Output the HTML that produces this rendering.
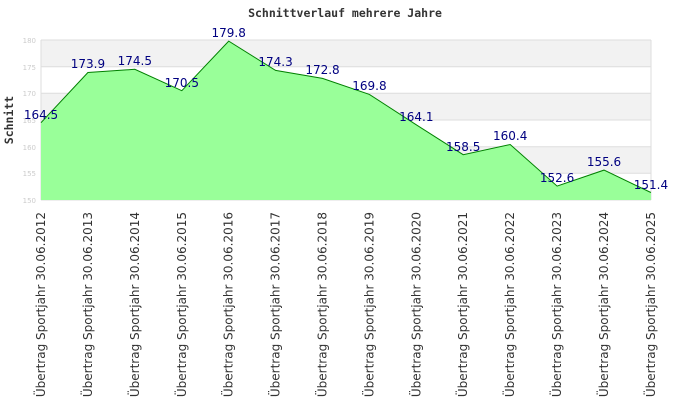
<!DOCTYPE html>
<html><head><style>body{margin:0;background:#fff}svg{display:block}</style></head><body>
<svg width="690" height="420" xmlns="http://www.w3.org/2000/svg">
<rect width="690" height="420" fill="#fff"/>
<text x="345" y="17" text-anchor="middle" font-family="DejaVu Sans Mono, monospace" font-weight="bold" font-size="11.5" fill="#333">Schnittverlauf mehrere Jahre</text>
<text transform="translate(13,120) rotate(-90)" text-anchor="middle" font-family="DejaVu Sans Mono, monospace" font-weight="bold" font-size="11.5" fill="#333">Schnitt</text>
<g>
<rect x="41" y="40" width="610" height="26.7" fill="#f2f2f2"/>
<rect x="41" y="93.3" width="610" height="26.7" fill="#f2f2f2"/>
<rect x="41" y="146.7" width="610" height="26.7" fill="#f2f2f2"/>
</g>
<g stroke="#ddd" stroke-width="1">
<line x1="41" y1="40" x2="651" y2="40"/><line x1="41" y1="66.7" x2="651" y2="66.7"/><line x1="41" y1="93.3" x2="651" y2="93.3"/><line x1="41" y1="120" x2="651" y2="120"/><line x1="41" y1="146.7" x2="651" y2="146.7"/><line x1="41" y1="173.3" x2="651" y2="173.3"/><line x1="41" y1="200" x2="651" y2="200"/>
<line x1="41" y1="40" x2="41" y2="200"/><line x1="651" y1="40" x2="651" y2="200"/>
</g>
<g font-family="DejaVu Sans, sans-serif" font-size="7" fill="#ccc" text-anchor="end">
<text x="36" y="43">180</text><text x="36" y="70">175</text><text x="36" y="96">170</text><text x="36" y="123">165</text><text x="36" y="150">160</text><text x="36" y="176">155</text><text x="36" y="203">150</text>
</g>
<polygon fill="#99ff99" points="41,200 41,122.7 87.9,72.5 134.8,69.3 181.8,90.7 228.7,41.1 275.6,70.4 322.5,78.4 369.4,94.4 416.3,124.8 463.2,154.7 510.2,144.5 557.1,186.1 604,170.1 650.9,192.5 650.9,200"/>
<polyline fill="none" stroke="#008000" stroke-width="1" points="41,122.7 87.9,72.5 134.8,69.3 181.8,90.7 228.7,41.1 275.6,70.4 322.5,78.4 369.4,94.4 416.3,124.8 463.2,154.7 510.2,144.5 557.1,186.1 604,170.1 650.9,192.5"/>
<g font-family="DejaVu Sans, sans-serif" font-size="12" fill="#000080" text-anchor="middle">
<text x="41" y="119">164.5</text><text x="87.9" y="68">173.9</text><text x="134.8" y="65">174.5</text><text x="181.8" y="87">170.5</text><text x="228.7" y="37">179.8</text><text x="275.6" y="66">174.3</text><text x="322.5" y="74">172.8</text><text x="369.4" y="90">169.8</text><text x="416.3" y="121">164.1</text><text x="463.2" y="151">158.5</text><text x="510.2" y="140">160.4</text><text x="557.1" y="182">152.6</text><text x="604" y="166">155.6</text><text x="650.9" y="189">151.4</text>
</g>
<g font-family="DejaVu Sans, sans-serif" font-size="12" fill="#333" text-anchor="end">
<text transform="translate(45,212) rotate(-90)">Übertrag Sportjahr 30.06.2012</text>
<text transform="translate(91.9,212) rotate(-90)">Übertrag Sportjahr 30.06.2013</text>
<text transform="translate(138.8,212) rotate(-90)">Übertrag Sportjahr 30.06.2014</text>
<text transform="translate(185.8,212) rotate(-90)">Übertrag Sportjahr 30.06.2015</text>
<text transform="translate(232.7,212) rotate(-90)">Übertrag Sportjahr 30.06.2016</text>
<text transform="translate(279.6,212) rotate(-90)">Übertrag Sportjahr 30.06.2017</text>
<text transform="translate(326.5,212) rotate(-90)">Übertrag Sportjahr 30.06.2018</text>
<text transform="translate(373.4,212) rotate(-90)">Übertrag Sportjahr 30.06.2019</text>
<text transform="translate(420.3,212) rotate(-90)">Übertrag Sportjahr 30.06.2020</text>
<text transform="translate(467.2,212) rotate(-90)">Übertrag Sportjahr 30.06.2021</text>
<text transform="translate(514.2,212) rotate(-90)">Übertrag Sportjahr 30.06.2022</text>
<text transform="translate(561.1,212) rotate(-90)">Übertrag Sportjahr 30.06.2023</text>
<text transform="translate(608,212) rotate(-90)">Übertrag Sportjahr 30.06.2024</text>
<text transform="translate(654.9,212) rotate(-90)">Übertrag Sportjahr 30.06.2025</text>
</g>
</svg>
</body></html>
